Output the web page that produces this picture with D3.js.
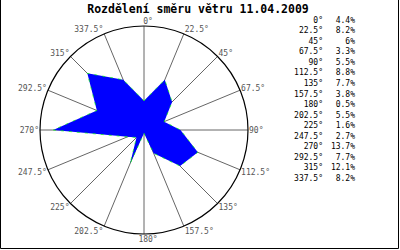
<!DOCTYPE html>
<html>
<head>
<meta charset="utf-8">
<script src="https://cdn.jsdelivr.net/npm/d3@7"></script>
<style>
  body { margin: 0; background: #fff; }
  svg { display: block; }
</style>
</head>
<body>
<svg id="chart" width="400" height="250"></svg>
<script>
const directions = [0, 22.5, 45, 67.5, 90, 112.5, 135, 157.5, 180, 202.5, 225, 247.5, 270, 292.5, 315, 337.5]
const dirLabels = ['0°', '22.5°', '45°', '67.5°', '90°', '112.5°', '135°', '157.5°', '180°', '202.5°', '225°', '247.5°', '270°', '292.5°', '315°', '337.5°']
const shares = [4.4, 8.2, 6, 3.3, 5.5, 8.8, 7.7, 3.8, 0.5, 5.5, 1.6, 2.7, 13.7, 7.7, 12.1, 8.2]
const shareLabels = ['4.4%', '8.2%', '6%', '3.3%', '5.5%', '8.8%', '7.7%', '3.8%', '0.5%', '5.5%', '1.6%', '2.7%', '13.7%', '7.7%', '12.1%', '8.2%']
const title = 'Rozdělení směru větru 11.04.2009'

const svg = d3.select('#chart')
const cx = 144, cy = 130, R = 104
const mono = 'DejaVu Sans Mono, monospace'

// frame
svg.append('path')
    .attr('d', 'M0.5,0 V248.5 H398.5 V0')
    .attr('fill', 'none')
    .attr('stroke', '#000')

svg.append('text')
    .attr('x', 198)
    .attr('y', 13)
    .attr('text-anchor', 'middle')
    .attr('font-family', mono)
    .attr('font-weight', 'bold')
    .attr('font-size', 11.5)
    .text(title)

const g = svg.append('g').attr('transform', `translate(${cx},${cy})`)

const angle = d3.scaleLinear().domain([0, 360]).range([0, 2 * Math.PI])
const radius = d3.scaleLinear().domain([0, 15.7]).range([0, R])

const tip = (deg, r) => [r * Math.sin(angle(deg)), -r * Math.cos(angle(deg))]

// spokes
g.selectAll('line.spoke')
    .data(directions)
    .enter().append('line')
    .attr('class', 'spoke')
    .attr('x1', 0).attr('y1', 0)
    .attr('x2', d => tip(d, R)[0])
    .attr('y2', d => tip(d, R)[1])
    .attr('stroke', '#666')
    .attr('stroke-width', 1)

g.append('circle')
    .attr('r', R)
    .attr('fill', 'none')
    .attr('stroke', '#000')
    .attr('stroke-width', 1.2)

// rose polygon
const line = d3.lineRadial()
    .angle((d, i) => angle(directions[i]))
    .radius(d => radius(d))
    .curve(d3.curveLinearClosed)

g.append('path')
    .datum(shares)
    .attr('d', line)
    .attr('fill', '#0000ff')
    .attr('stroke', '#00ff00')
    .attr('stroke-width', 0.7)
    .attr('stroke-dasharray', '3,5')

// direction labels
g.selectAll('text.dir')
    .data(directions)
    .enter().append('text')
    .attr('class', 'dir')
    .attr('x', d => {
        const s = Math.sin(angle(d))
        const x = tip(d, R)[0]
        if (Math.abs(s) < 0.01) return x + 4
        return s > 0 ? x + 1 : x - 1
    })
    .attr('y', d => tip(d, R)[1] - Math.cos(angle(d)) * 5)
    .attr('dy', '0.35em')
    .attr('text-anchor', d => {
        const s = Math.sin(angle(d))
        if (Math.abs(s) < 0.01) return 'middle'
        return s > 0 ? 'start' : 'end'
    })
    .attr('font-family', mono)
    .attr('font-size', 8)
    .attr('fill', '#555')
    .text((d, i) => dirLabels[i])

// legend
const rowY = d3.scaleLinear().domain([0, 15]).range([20, 178])
const legend = svg.append('g')
    .attr('font-family', mono)
    .attr('font-size', 8)
    .attr('fill', '#000')

legend.selectAll('text.ldir')
    .data(dirLabels)
    .enter().append('text')
    .attr('class', 'ldir')
    .attr('x', 323)
    .attr('y', (d, i) => rowY(i))
    .attr('dy', '0.35em')
    .attr('text-anchor', 'end')
    .text(d => d)

legend.selectAll('text.lval')
    .data(shareLabels)
    .enter().append('text')
    .attr('class', 'lval')
    .attr('x', 355)
    .attr('y', (d, i) => rowY(i))
    .attr('dy', '0.35em')
    .attr('text-anchor', 'end')
    .text(d => d)
</script>
</body>
</html>
